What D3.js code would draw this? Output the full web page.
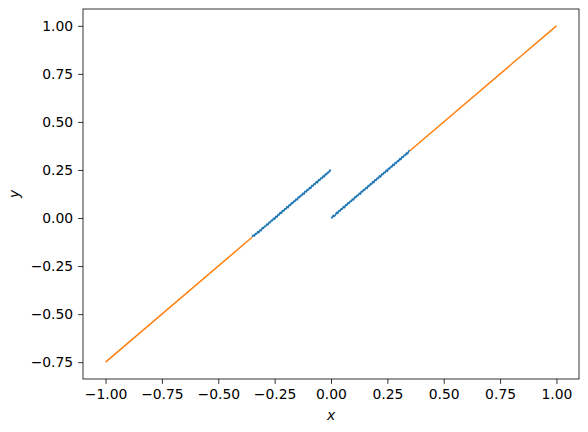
<!DOCTYPE html>
<html>
<head>
<meta charset="utf-8">
<script src="https://cdn.jsdelivr.net/npm/d3@7"></script>
<style>
  body { margin: 0; background: #fff; }
  svg { font-family: "DejaVu Sans", sans-serif; }
</style>
</head>
<body>
<div id="chart"></div>
<script>
// blue: noisy samples on both sides of x = 0
const leftX = [-0.35,-0.345,-0.34,-0.335,-0.33,-0.325,-0.32,-0.315,-0.31,-0.305,-0.30,-0.295,-0.29,-0.285,-0.28,-0.275,-0.27,-0.265,
  -0.26,-0.255,-0.25,-0.245,-0.24,-0.235,-0.23,-0.225,-0.22,-0.215,-0.21,-0.205,-0.20,-0.195,-0.19,-0.185,-0.18,-0.175,
  -0.17,-0.165,-0.16,-0.155,-0.15,-0.145,-0.14,-0.135,-0.13,-0.125,-0.12,-0.115,-0.11,-0.105,-0.10,-0.095,-0.09,-0.085,
  -0.08,-0.075,-0.07,-0.065,-0.06,-0.055,-0.05,-0.045,-0.04,-0.035,-0.03,-0.025,-0.02,-0.015,-0.01,-0.005,0.00];
const leftY = [-0.098,-0.089,-0.094,-0.081,-0.083,-0.071,-0.076,-0.062,-0.066,-0.051,-0.054,-0.043,-0.044,-0.031,-0.036,-0.022,-0.024,-0.012,
  -0.014,-0.001,-0.006,0.009,0.004,0.018,0.016,0.029,0.025,0.039,0.036,0.048,0.046,0.059,0.054,0.069,0.066,0.079,
  0.076,0.088,0.086,0.099,0.094,0.109,0.106,0.118,0.116,0.129,0.124,0.139,0.136,0.148,0.146,0.159,0.154,0.169,
  0.166,0.178,0.176,0.189,0.184,0.199,0.196,0.208,0.206,0.219,0.214,0.229,0.226,0.238,0.236,0.249,0.244];
const rightX = [0.00,0.005,0.01,0.015,0.02,0.025,0.03,0.035,0.04,0.045,0.05,0.055,0.06,0.065,0.07,0.075,0.08,0.085,
  0.09,0.095,0.10,0.105,0.11,0.115,0.12,0.125,0.13,0.135,0.14,0.145,0.15,0.155,0.16,0.165,0.17,0.175,
  0.18,0.185,0.19,0.195,0.20,0.205,0.21,0.215,0.22,0.225,0.23,0.235,0.24,0.245,0.25,0.255,0.26,0.265,
  0.27,0.275,0.28,0.285,0.29,0.295,0.30,0.305,0.31,0.315,0.32,0.325,0.33,0.335,0.34,0.345,0.35];
const rightY = [0.004,0.001,0.014,0.009,0.016,0.029,0.024,0.039,0.036,0.048,0.046,0.059,0.054,0.069,0.066,0.079,0.076,0.088,
  0.086,0.099,0.094,0.109,0.106,0.118,0.116,0.129,0.124,0.139,0.136,0.148,0.146,0.159,0.154,0.169,0.166,0.178,
  0.176,0.189,0.184,0.199,0.196,0.208,0.206,0.219,0.214,0.229,0.226,0.238,0.236,0.249,0.244,0.259,0.256,0.268,
  0.266,0.279,0.274,0.289,0.286,0.298,0.296,0.309,0.304,0.319,0.316,0.328,0.326,0.339,0.334,0.349,0.352];

// orange: outer parts
const orangeLeftX = [-1.0, -0.35];
const orangeLeftY = [-0.75, -0.10];
const orangeRightX = [0.35, 1.0];
const orangeRightY = [0.35, 1.0];

const xTicks = [-1.0, -0.75, -0.5, -0.25, 0, 0.25, 0.5, 0.75, 1.0];
const yTicks = [-0.75, -0.5, -0.25, 0, 0.25, 0.5, 0.75, 1.0];

const width = 588, height = 432;
const margin = {top: 9, right: 9, bottom: 53, left: 83};

const svg = d3.select("#chart")
  .append("svg")
  .attr("width", width)
  .attr("height", height);

let x = d3.scaleLinear()
  .domain([-1.1, 1.1])
  .range([margin.left, width - margin.right]);

let y = d3.scaleLinear()
  .domain([-0.8375, 1.0875])
  .range([height - margin.bottom, margin.top]);

const zip = (xs, ys) => xs.map((v, i) => [v, ys[i]]);

let line = d3.line()
  .x(d => x(d[0]))
  .y(d => y(d[1]));

svg.append("path")
  .datum(zip(orangeLeftX, orangeLeftY))
  .attr("fill", "none")
  .attr("stroke", "#ff7f0e")
  .attr("stroke-width", 1.5)
  .attr("d", line);

svg.append("path")
  .datum(zip(orangeRightX, orangeRightY))
  .attr("fill", "none")
  .attr("stroke", "#ff7f0e")
  .attr("stroke-width", 1.5)
  .attr("d", line);

svg.append("path")
  .datum(zip(leftX, leftY))
  .attr("fill", "none")
  .attr("stroke", "#1f77b4")
  .attr("stroke-width", 1.6)
  .attr("stroke-linejoin", "round")
  .attr("d", line);

svg.append("path")
  .datum(zip(rightX, rightY))
  .attr("fill", "none")
  .attr("stroke", "#1f77b4")
  .attr("stroke-width", 1.6)
  .attr("stroke-linejoin", "round")
  .attr("d", line);

// axes
const xAxis = svg.append("g")
  .attr("transform", `translate(0,${height - margin.bottom})`)
  .call(d3.axisBottom(x).tickValues(xTicks).tickFormat(d3.format(".2f")).tickSizeOuter(0).tickSize(4.9).tickPadding(4.9));

const yAxis = svg.append("g")
  .attr("transform", `translate(${margin.left},0)`)
  .call(d3.axisLeft(y).tickValues(yTicks).tickFormat(d3.format(".2f")).tickSizeOuter(0).tickSize(4.9).tickPadding(4.9));

[xAxis, yAxis].forEach(a => {
  a.select(".domain").remove();
  a.selectAll("line").attr("stroke", "#000").attr("stroke-width", 0.8);
  a.selectAll("text").attr("font-size", "13.9px").attr("font-family", "DejaVu Sans").attr("fill", "#000");
});

// frame
svg.append("rect")
  .attr("x", margin.left)
  .attr("y", margin.top)
  .attr("width", width - margin.left - margin.right)
  .attr("height", height - margin.top - margin.bottom)
  .attr("fill", "none")
  .attr("stroke", "#000")
  .attr("stroke-width", 0.8);

svg.append("text")
  .text("x")
  .attr("x", (margin.left + width - margin.right) / 2)
  .attr("y", 420)
  .attr("text-anchor", "middle")
  .attr("font-style", "italic")
  .attr("font-size", "13.9px");

svg.append("text")
  .text("y")
  .attr("transform", `translate(19,${(margin.top + height - margin.bottom) / 2}) rotate(-90)`)
  .attr("text-anchor", "middle")
  .attr("font-style", "italic")
  .attr("font-size", "13.9px");
</script>
</body>
</html>
